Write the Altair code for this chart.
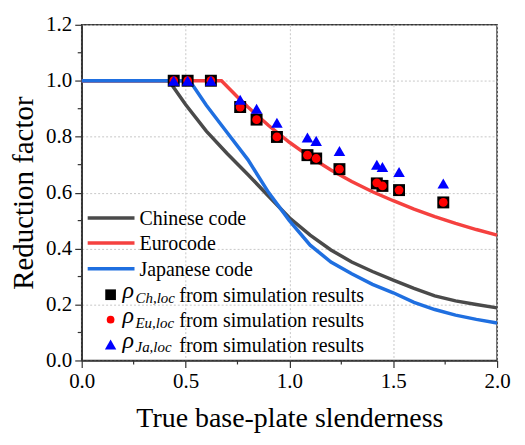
import altair as alt
import pandas as pd

# ---- data ----
ch_x = [0.0, 0.42, 0.5, 0.6, 0.7, 0.8, 0.9, 1.0, 1.1, 1.2, 1.3, 1.4, 1.5, 1.6, 1.7, 1.8, 1.9, 2.0]
ch_y = [1.0, 1.0, 0.915, 0.82, 0.74, 0.665, 0.587, 0.51, 0.448, 0.395, 0.352, 0.318, 0.287, 0.258, 0.231, 0.213, 0.2, 0.188]

eu_x = [0.0, 0.673, 0.75, 0.8, 0.9, 1.0, 1.1, 1.2, 1.3, 1.4, 1.5, 1.6, 1.7, 1.8, 1.9, 2.0]
eu_y = [1.0, 1.0, 0.942, 0.906, 0.840, 0.780, 0.727, 0.681, 0.640, 0.603, 0.571, 0.541, 0.514, 0.490, 0.468, 0.448]

ja_x = [0.0, 0.52, 0.6, 0.7, 0.8, 0.9, 1.0, 1.1, 1.2, 1.3, 1.4, 1.5, 1.6, 1.7, 1.8, 1.9, 2.0]
ja_y = [1.0, 1.0, 0.912, 0.815, 0.718, 0.60, 0.50, 0.412, 0.352, 0.31, 0.272, 0.242, 0.208, 0.182, 0.162, 0.147, 0.134]

sim_x = [0.443, 0.51, 0.622, 0.763, 0.842, 0.94, 1.087, 1.129, 1.241, 1.421, 1.448, 1.528, 1.741]
sim_ch = [1.0, 1.0, 1.0, 0.906, 0.861, 0.799, 0.734, 0.722, 0.684, 0.633, 0.624, 0.609, 0.565]
sim_eu = [1.0, 1.0, 1.0, 0.906, 0.861, 0.799, 0.734, 0.722, 0.684, 0.635, 0.624, 0.609, 0.565]
sim_ja = [1.0, 1.0, 1.0, 0.932, 0.900, 0.850, 0.797, 0.785, 0.749, 0.700, 0.692, 0.674, 0.633]

x_major = [0.0, 0.5, 1.0, 1.5, 2.0]
y_major = [0.0, 0.2, 0.4, 0.6, 0.8, 1.0, 1.2]
x_minor = [0.25, 0.75, 1.25, 1.75]
y_minor = [0.1, 0.3, 0.5, 0.7, 0.9, 1.1]

W, H = 417, 337
FONT = "Liberation Serif, Times New Roman, serif"
C_CH, C_EU, C_JA = "#4a4a4a", "#f5413f", "#1f6fe0"

xs = alt.Scale(domain=[0, 2], nice=False, zero=False)
ys = alt.Scale(domain=[0, 1.2], nice=False, zero=False)

x_axis = alt.Axis(values=x_major, format=".1f", title="True base-plate slenderness",
                  grid=True, tickSize=7, labelPadding=3, labelFontSize=21, labelFlush=False,
                  titleFontSize=28, titleBaseline="alphabetic", titleY=66)
y_axis = alt.Axis(values=y_major, format=".1f", title="Reduction factor",
                  grid=True, tickSize=7, labelPadding=3, labelFontSize=21, labelFlush=False,
                  titleFontSize=29, titleBaseline="alphabetic", titleX=-49)


def curve(xv, yv, color):
    df = pd.DataFrame({"x": xv, "y": yv})
    return alt.Chart(df).mark_line(color=color, strokeWidth=3.5).encode(
        x=alt.X("x:Q", scale=xs, axis=x_axis),
        y=alt.Y("y:Q", scale=ys, axis=y_axis),
    )


def points(yv, shape, color, size):
    df = pd.DataFrame({"x": sim_x, "y": yv})
    return alt.Chart(df).mark_point(shape=shape, filled=True, color=color,
                                    size=size, opacity=1, strokeWidth=0).encode(
        x=alt.X("x:Q", scale=xs, axis=x_axis),
        y=alt.Y("y:Q", scale=ys, axis=y_axis),
    )


one = pd.DataFrame({"a": [0]})

minor_x = alt.Chart(pd.DataFrame({"x": x_minor})).mark_rule(color="#333", strokeWidth=1.2).encode(
    x=alt.X("x:Q", scale=xs, axis=x_axis), y=alt.value(H), y2=alt.value(H + 4))
minor_y = alt.Chart(pd.DataFrame({"y": y_minor})).mark_rule(color="#333", strokeWidth=1.2).encode(
    y=alt.Y("y:Q", scale=ys, axis=y_axis), x=alt.value(0), x2=alt.value(-4))

layers = [
    curve(ch_x, ch_y, C_CH),
    curve(eu_x, eu_y, C_EU),
    curve(ja_x, ja_y, C_JA),
    points(sim_ch, "square", "#000000", 144),
    points(sim_eu, "circle", "#ff0000", 78),
    points(sim_ja, "triangle-up", "#0000ff", 135),
    minor_x,
    minor_y,
]


def label(x, y, txt, size, italic=False):
    kw = dict(align="left", baseline="alphabetic", font=FONT, fontSize=size, color="black")
    if italic:
        kw["fontStyle"] = "italic"
    return alt.Chart(one).mark_text(**kw).encode(
        x=alt.value(x), y=alt.value(y), text=alt.value(txt))


# ---- legend (drawn inside plot, lower left) ----
line_rows = [(194, "Chinese code", C_CH), (219, "Eurocode", C_EU), (245, "Japanese code", C_JA)]
for yy, txt, col in line_rows:
    layers.append(alt.Chart(one).mark_rule(color=col, strokeWidth=3.5).encode(
        x=alt.value(6), x2=alt.value(53), y=alt.value(yy)))
    layers.append(label(58, yy + 7, txt, 20))

sym_rows = [(271, "square", "#000000", 115, "Ch,loc"),
            (296, "circle", "#ff0000", 60, "Eu,loc"),
            (321, "triangle-up", "#0000ff", 130, "Ja,loc")]
for yy, shape, col, size, sub in sym_rows:
    layers.append(alt.Chart(one).mark_point(shape=shape, filled=True, color=col, size=size,
                                            opacity=1, strokeWidth=0).encode(
        x=alt.value(29), y=alt.value(yy)))
    layers.append(label(41, yy + 3, "ρ", 24, italic=True))
    layers.append(label(54, yy + 8, sub, 15, italic=True))
    layers.append(label(98, yy + 7, "from simulation results", 20))

chart = alt.layer(*layers).properties(
    width=W, height=H,
    autosize=alt.AutoSizeParams(type="none"),
    padding={"left": 74, "top": 16, "right": 20, "bottom": 80},
    background="white",
).configure(
    font=FONT
).configure_text(
    font=FONT
).configure_view(
    stroke="#333", strokeWidth=1.5
).configure_axis(
    labelFont=FONT, titleFont=FONT, labelColor="black", titleColor="black",
    titleFontWeight="normal", domainColor="#333", domainWidth=1.5,
    tickColor="#333", tickWidth=1.2, gridColor="#c8c8c8", gridDash=[2, 2], gridWidth=1,
)

chart.save("out.html", embed_options={"renderer": "svg", "actions": False})
